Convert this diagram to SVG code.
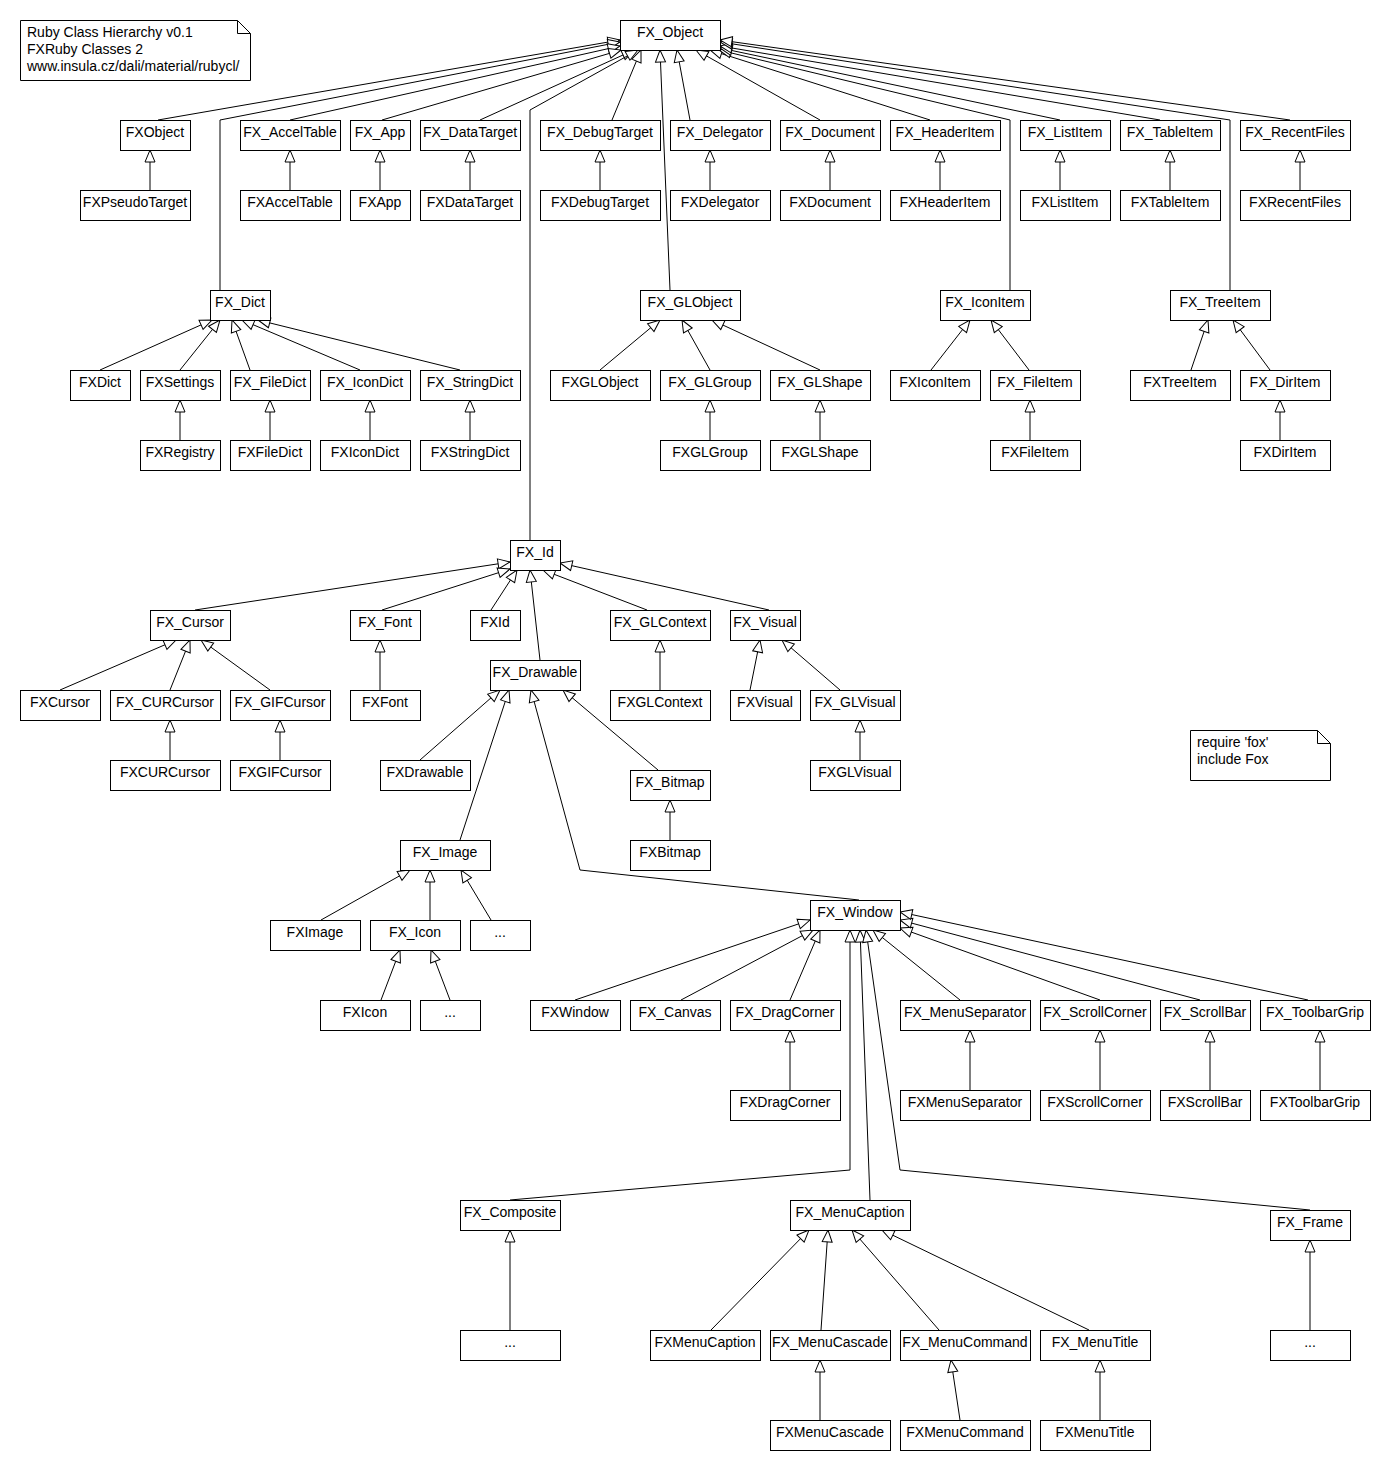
<svg xmlns="http://www.w3.org/2000/svg" width="1390" height="1470" viewBox="0 0 1390 1470">
<style>
.b{fill:#fff;stroke:#000;stroke-width:1}
.t{font-family:"Liberation Sans",Arial,sans-serif;font-size:14px;fill:#000;text-anchor:middle}
.n{font-family:"Liberation Sans",Arial,sans-serif;font-size:14px;fill:#000}
.e{fill:none;stroke:#000;stroke-width:1;marker-end:url(#gen)}
.f{fill:none;stroke:#000;stroke-width:1}
</style>
<defs>
<marker id="gen" markerUnits="userSpaceOnUse" markerWidth="14" markerHeight="12" viewBox="0 0 14 12" refX="13" refY="6" orient="auto" overflow="visible">
<path d="M1,1 L13,6 L1,11 Z" fill="#fff" stroke="#000" stroke-width="1"/>
</marker>
</defs>
<rect width="1390" height="1470" fill="#fff"/>

<g id="connectors">
<path class="e" d="M158,120 L620,40"/>
<path class="e" d="M220,290 L220,120 L620,42"/>
<path class="e" d="M290,120 L620,46"/>
<path class="e" d="M382,120 L621,50"/>
<path class="e" d="M480,120 L634,50"/>
<path class="e" d="M530,540 L530,110 L638,50"/>
<path class="e" d="M612,120 L641,50"/>
<path class="e" d="M670,290 L660,50"/>
<path class="e" d="M690,120 L677,50"/>
<path class="e" d="M820,120 L696,50"/>
<path class="e" d="M930,120 L710,50"/>
<path class="e" d="M1010,290 L1010,120 L719,50"/>
<path class="e" d="M1060,120 L720,48"/>
<path class="e" d="M1160,120 L720,46"/>
<path class="e" d="M1230,290 L1230,120 L720,42"/>
<path class="e" d="M1290,120 L720,40"/>

<path class="e" d="M150,190 L150,150"/>
<path class="e" d="M290,190 L290,150"/>
<path class="e" d="M380,190 L380,150"/>
<path class="e" d="M470,190 L470,150"/>
<path class="e" d="M600,190 L600,150"/>
<path class="e" d="M710,190 L710,150"/>
<path class="e" d="M830,190 L830,150"/>
<path class="e" d="M940,190 L940,150"/>
<path class="e" d="M1060,190 L1060,150"/>
<path class="e" d="M1170,190 L1170,150"/>
<path class="e" d="M1300,190 L1300,150"/>

<path class="e" d="M100,370 L212,320"/>
<path class="e" d="M180,370 L220,320"/>
<path class="e" d="M250,370 L232,320"/>
<path class="e" d="M360,370 L242,320"/>
<path class="e" d="M460,370 L258,320"/>
<path class="e" d="M180,440 L180,400"/>
<path class="e" d="M270,440 L270,400"/>
<path class="e" d="M370,440 L370,400"/>
<path class="e" d="M470,440 L470,400"/>

<path class="e" d="M600,370 L660,320"/>
<path class="e" d="M710,370 L682,320"/>
<path class="e" d="M820,370 L712,320"/>
<path class="e" d="M710,440 L710,400"/>
<path class="e" d="M820,440 L820,400"/>

<path class="e" d="M931,370 L970,320"/>
<path class="e" d="M1029,370 L991,320"/>
<path class="e" d="M1030,440 L1030,400"/>

<path class="e" d="M1191,370 L1208,320"/>
<path class="e" d="M1270,370 L1233,320"/>
<path class="e" d="M1280,440 L1280,400"/>

<path class="e" d="M195,610 L510,562"/>
<path class="e" d="M382,610 L510,569"/>
<path class="e" d="M491,610 L517,570"/>
<path class="e" d="M540,660 L530,570"/>
<path class="e" d="M647,610 L543,570"/>
<path class="e" d="M769,610 L560,563"/>

<path class="e" d="M60,690 L176,640"/>
<path class="e" d="M170,690 L190,640"/>
<path class="e" d="M270,690 L201,640"/>
<path class="e" d="M170,760 L170,720"/>
<path class="e" d="M280,760 L280,720"/>
<path class="e" d="M380,690 L380,640"/>
<path class="e" d="M660,690 L660,640"/>
<path class="e" d="M750,690 L760,640"/>
<path class="e" d="M840,690 L782,640"/>
<path class="e" d="M860,760 L860,720"/>

<path class="e" d="M420,760 L500,690"/>
<path class="e" d="M460,840 L509,690"/>
<path class="e" d="M859,900 L580,870 L531,690"/>
<path class="e" d="M658,770 L563,690"/>
<path class="e" d="M670,840 L670,800"/>

<path class="e" d="M321,920 L410,870"/>
<path class="e" d="M430,920 L430,870"/>
<path class="e" d="M491,920 L461,870"/>
<path class="e" d="M381,1000 L400,950"/>
<path class="e" d="M450,1000 L431,950"/>

<path class="e" d="M575,1000 L810,920"/>
<path class="e" d="M681,1000 L813,930"/>
<path class="e" d="M790,1000 L820,930"/>
<path class="e" d="M510,1200 L850,1170 L850,930"/>
<path class="e" d="M870,1200 L860,930"/>
<path class="e" d="M1310,1210 L900,1170 L866,930"/>
<path class="e" d="M960,1000 L873,930"/>
<path class="e" d="M1100,1000 L900,928"/>
<path class="e" d="M1200,1000 L900,920"/>
<path class="e" d="M1308,1000 L900,912"/>
<path class="e" d="M790,1090 L790,1030"/>
<path class="e" d="M970,1090 L970,1030"/>
<path class="e" d="M1100,1090 L1100,1030"/>
<path class="e" d="M1210,1090 L1210,1030"/>
<path class="e" d="M1320,1090 L1320,1030"/>

<path class="e" d="M510,1330 L510,1230"/>
<path class="e" d="M1310,1330 L1310,1240"/>
<path class="e" d="M711,1330 L809,1230"/>
<path class="e" d="M821,1330 L828,1230"/>
<path class="e" d="M939,1330 L852,1230"/>
<path class="e" d="M1089,1330 L882,1230"/>
<path class="e" d="M820,1420 L820,1360"/>
<path class="e" d="M960,1420 L951,1360"/>
<path class="e" d="M1100,1420 L1100,1360"/>
</g>

<g id="note_title">
<path class="b" d="M20.5,20.5 H237.5 L250.5,33.5 V80.5 H20.5 Z"/>
<path class="f" d="M237.5,20.5 V33.5 H250.5"/>
<text class="n" x="27" y="37">Ruby Class Hierarchy v0.1</text>
<text class="n" x="27" y="54">FXRuby Classes 2</text>
<text class="n" x="27" y="71">www.insula.cz/dali/material/rubycl/</text>
</g>
<g id="note_require">
<path class="b" d="M1190.5,730.5 H1317.5 L1330.5,743.5 V780.5 H1190.5 Z"/>
<path class="f" d="M1317.5,730.5 V743.5 H1330.5"/>
<text class="n" x="1197" y="747">require 'fox'</text>
<text class="n" x="1197" y="764">include Fox</text>
</g>

<g id="FX_Object"><rect class="b" x="620.5" y="20.5" width="100" height="30"/><text class="t" x="670" y="37">FX_Object</text></g>

<g id="FXObject"><rect class="b" x="120.5" y="120.5" width="70" height="30"/><text class="t" x="155" y="137">FXObject</text></g>
<g id="FX_AccelTable"><rect class="b" x="240.5" y="120.5" width="100" height="30"/><text class="t" x="290" y="137">FX_AccelTable</text></g>
<g id="FX_App"><rect class="b" x="350.5" y="120.5" width="60" height="30"/><text class="t" x="380" y="137">FX_App</text></g>
<g id="FX_DataTarget"><rect class="b" x="420.5" y="120.5" width="100" height="30"/><text class="t" x="470" y="137">FX_DataTarget</text></g>
<g id="FX_DebugTarget"><rect class="b" x="540.5" y="120.5" width="120" height="30"/><text class="t" x="600" y="137">FX_DebugTarget</text></g>
<g id="FX_Delegator"><rect class="b" x="670.5" y="120.5" width="100" height="30"/><text class="t" x="720" y="137">FX_Delegator</text></g>
<g id="FX_Document"><rect class="b" x="780.5" y="120.5" width="100" height="30"/><text class="t" x="830" y="137">FX_Document</text></g>
<g id="FX_HeaderItem"><rect class="b" x="890.5" y="120.5" width="110" height="30"/><text class="t" x="945" y="137">FX_HeaderItem</text></g>
<g id="FX_ListItem"><rect class="b" x="1020.5" y="120.5" width="90" height="30"/><text class="t" x="1065" y="137">FX_ListItem</text></g>
<g id="FX_TableItem"><rect class="b" x="1120.5" y="120.5" width="100" height="30"/><text class="t" x="1170" y="137">FX_TableItem</text></g>
<g id="FX_RecentFiles"><rect class="b" x="1240.5" y="120.5" width="110" height="30"/><text class="t" x="1295" y="137">FX_RecentFiles</text></g>

<g id="FXPseudoTarget"><rect class="b" x="80.5" y="190.5" width="110" height="30"/><text class="t" x="135" y="207">FXPseudoTarget</text></g>
<g id="FXAccelTable"><rect class="b" x="240.5" y="190.5" width="100" height="30"/><text class="t" x="290" y="207">FXAccelTable</text></g>
<g id="FXApp"><rect class="b" x="350.5" y="190.5" width="60" height="30"/><text class="t" x="380" y="207">FXApp</text></g>
<g id="FXDataTarget"><rect class="b" x="420.5" y="190.5" width="100" height="30"/><text class="t" x="470" y="207">FXDataTarget</text></g>
<g id="FXDebugTarget"><rect class="b" x="540.5" y="190.5" width="120" height="30"/><text class="t" x="600" y="207">FXDebugTarget</text></g>
<g id="FXDelegator"><rect class="b" x="670.5" y="190.5" width="100" height="30"/><text class="t" x="720" y="207">FXDelegator</text></g>
<g id="FXDocument"><rect class="b" x="780.5" y="190.5" width="100" height="30"/><text class="t" x="830" y="207">FXDocument</text></g>
<g id="FXHeaderItem"><rect class="b" x="890.5" y="190.5" width="110" height="30"/><text class="t" x="945" y="207">FXHeaderItem</text></g>
<g id="FXListItem"><rect class="b" x="1020.5" y="190.5" width="90" height="30"/><text class="t" x="1065" y="207">FXListItem</text></g>
<g id="FXTableItem"><rect class="b" x="1120.5" y="190.5" width="100" height="30"/><text class="t" x="1170" y="207">FXTableItem</text></g>
<g id="FXRecentFiles"><rect class="b" x="1240.5" y="190.5" width="110" height="30"/><text class="t" x="1295" y="207">FXRecentFiles</text></g>

<g id="FX_Dict"><rect class="b" x="210.5" y="290.5" width="60" height="30"/><text class="t" x="240" y="307">FX_Dict</text></g>
<g id="FX_GLObject"><rect class="b" x="640.5" y="290.5" width="100" height="30"/><text class="t" x="690" y="307">FX_GLObject</text></g>
<g id="FX_IconItem"><rect class="b" x="940.5" y="290.5" width="90" height="30"/><text class="t" x="985" y="307">FX_IconItem</text></g>
<g id="FX_TreeItem"><rect class="b" x="1170.5" y="290.5" width="100" height="30"/><text class="t" x="1220" y="307">FX_TreeItem</text></g>

<g id="FXDict"><rect class="b" x="70.5" y="370.5" width="60" height="30"/><text class="t" x="100" y="387">FXDict</text></g>
<g id="FXSettings"><rect class="b" x="140.5" y="370.5" width="80" height="30"/><text class="t" x="180" y="387">FXSettings</text></g>
<g id="FX_FileDict"><rect class="b" x="230.5" y="370.5" width="80" height="30"/><text class="t" x="270" y="387">FX_FileDict</text></g>
<g id="FX_IconDict"><rect class="b" x="320.5" y="370.5" width="90" height="30"/><text class="t" x="365" y="387">FX_IconDict</text></g>
<g id="FX_StringDict"><rect class="b" x="420.5" y="370.5" width="100" height="30"/><text class="t" x="470" y="387">FX_StringDict</text></g>
<g id="FXGLObject"><rect class="b" x="550.5" y="370.5" width="100" height="30"/><text class="t" x="600" y="387">FXGLObject</text></g>
<g id="FX_GLGroup"><rect class="b" x="660.5" y="370.5" width="100" height="30"/><text class="t" x="710" y="387">FX_GLGroup</text></g>
<g id="FX_GLShape"><rect class="b" x="770.5" y="370.5" width="100" height="30"/><text class="t" x="820" y="387">FX_GLShape</text></g>
<g id="FXIconItem"><rect class="b" x="890.5" y="370.5" width="90" height="30"/><text class="t" x="935" y="387">FXIconItem</text></g>
<g id="FX_FileItem"><rect class="b" x="990.5" y="370.5" width="90" height="30"/><text class="t" x="1035" y="387">FX_FileItem</text></g>
<g id="FXTreeItem"><rect class="b" x="1130.5" y="370.5" width="100" height="30"/><text class="t" x="1180" y="387">FXTreeItem</text></g>
<g id="FX_DirItem"><rect class="b" x="1240.5" y="370.5" width="90" height="30"/><text class="t" x="1285" y="387">FX_DirItem</text></g>

<g id="FXRegistry"><rect class="b" x="140.5" y="440.5" width="80" height="30"/><text class="t" x="180" y="457">FXRegistry</text></g>
<g id="FXFileDict"><rect class="b" x="230.5" y="440.5" width="80" height="30"/><text class="t" x="270" y="457">FXFileDict</text></g>
<g id="FXIconDict"><rect class="b" x="320.5" y="440.5" width="90" height="30"/><text class="t" x="365" y="457">FXIconDict</text></g>
<g id="FXStringDict"><rect class="b" x="420.5" y="440.5" width="100" height="30"/><text class="t" x="470" y="457">FXStringDict</text></g>
<g id="FXGLGroup"><rect class="b" x="660.5" y="440.5" width="100" height="30"/><text class="t" x="710" y="457">FXGLGroup</text></g>
<g id="FXGLShape"><rect class="b" x="770.5" y="440.5" width="100" height="30"/><text class="t" x="820" y="457">FXGLShape</text></g>
<g id="FXFileItem"><rect class="b" x="990.5" y="440.5" width="90" height="30"/><text class="t" x="1035" y="457">FXFileItem</text></g>
<g id="FXDirItem"><rect class="b" x="1240.5" y="440.5" width="90" height="30"/><text class="t" x="1285" y="457">FXDirItem</text></g>

<g id="FX_Id"><rect class="b" x="510.5" y="540.5" width="50" height="30"/><text class="t" x="535" y="557">FX_Id</text></g>

<g id="FX_Cursor"><rect class="b" x="150.5" y="610.5" width="80" height="30"/><text class="t" x="190" y="627">FX_Cursor</text></g>
<g id="FX_Font"><rect class="b" x="350.5" y="610.5" width="70" height="30"/><text class="t" x="385" y="627">FX_Font</text></g>
<g id="FXId"><rect class="b" x="470.5" y="610.5" width="50" height="30"/><text class="t" x="495" y="627">FXId</text></g>
<g id="FX_GLContext"><rect class="b" x="610.5" y="610.5" width="100" height="30"/><text class="t" x="660" y="627">FX_GLContext</text></g>
<g id="FX_Visual"><rect class="b" x="730.5" y="610.5" width="70" height="30"/><text class="t" x="765" y="627">FX_Visual</text></g>

<g id="FX_Drawable"><rect class="b" x="490.5" y="660.5" width="90" height="30"/><text class="t" x="535" y="677">FX_Drawable</text></g>

<g id="FXCursor"><rect class="b" x="20.5" y="690.5" width="80" height="30"/><text class="t" x="60" y="707">FXCursor</text></g>
<g id="FX_CURCursor"><rect class="b" x="110.5" y="690.5" width="110" height="30"/><text class="t" x="165" y="707">FX_CURCursor</text></g>
<g id="FX_GIFCursor"><rect class="b" x="230.5" y="690.5" width="100" height="30"/><text class="t" x="280" y="707">FX_GIFCursor</text></g>
<g id="FXFont"><rect class="b" x="350.5" y="690.5" width="70" height="30"/><text class="t" x="385" y="707">FXFont</text></g>
<g id="FXGLContext"><rect class="b" x="610.5" y="690.5" width="100" height="30"/><text class="t" x="660" y="707">FXGLContext</text></g>
<g id="FXVisual"><rect class="b" x="730.5" y="690.5" width="70" height="30"/><text class="t" x="765" y="707">FXVisual</text></g>
<g id="FX_GLVisual"><rect class="b" x="810.5" y="690.5" width="90" height="30"/><text class="t" x="855" y="707">FX_GLVisual</text></g>

<g id="FXCURCursor"><rect class="b" x="110.5" y="760.5" width="110" height="30"/><text class="t" x="165" y="777">FXCURCursor</text></g>
<g id="FXGIFCursor"><rect class="b" x="230.5" y="760.5" width="100" height="30"/><text class="t" x="280" y="777">FXGIFCursor</text></g>
<g id="FXDrawable"><rect class="b" x="380.5" y="760.5" width="90" height="30"/><text class="t" x="425" y="777">FXDrawable</text></g>
<g id="FX_Bitmap"><rect class="b" x="630.5" y="770.5" width="80" height="30"/><text class="t" x="670" y="787">FX_Bitmap</text></g>
<g id="FXGLVisual"><rect class="b" x="810.5" y="760.5" width="90" height="30"/><text class="t" x="855" y="777">FXGLVisual</text></g>

<g id="FX_Image"><rect class="b" x="400.5" y="840.5" width="90" height="30"/><text class="t" x="445" y="857">FX_Image</text></g>
<g id="FXBitmap"><rect class="b" x="630.5" y="840.5" width="80" height="30"/><text class="t" x="670" y="857">FXBitmap</text></g>

<g id="FX_Window"><rect class="b" x="810.5" y="900.5" width="90" height="30"/><text class="t" x="855" y="917">FX_Window</text></g>

<g id="FXImage"><rect class="b" x="270.5" y="920.5" width="90" height="30"/><text class="t" x="315" y="937">FXImage</text></g>
<g id="FX_Icon"><rect class="b" x="370.5" y="920.5" width="90" height="30"/><text class="t" x="415" y="937">FX_Icon</text></g>
<g id="dots_image"><rect class="b" x="470.5" y="920.5" width="60" height="30"/><text class="t" x="500" y="937">...</text></g>

<g id="FXIcon"><rect class="b" x="320.5" y="1000.5" width="90" height="30"/><text class="t" x="365" y="1017">FXIcon</text></g>
<g id="dots_icon"><rect class="b" x="420.5" y="1000.5" width="60" height="30"/><text class="t" x="450" y="1017">...</text></g>
<g id="FXWindow"><rect class="b" x="530.5" y="1000.5" width="90" height="30"/><text class="t" x="575" y="1017">FXWindow</text></g>
<g id="FX_Canvas"><rect class="b" x="630.5" y="1000.5" width="90" height="30"/><text class="t" x="675" y="1017">FX_Canvas</text></g>
<g id="FX_DragCorner"><rect class="b" x="730.5" y="1000.5" width="110" height="30"/><text class="t" x="785" y="1017">FX_DragCorner</text></g>
<g id="FX_MenuSeparator"><rect class="b" x="900.5" y="1000.5" width="130" height="30"/><text class="t" x="965" y="1017">FX_MenuSeparator</text></g>
<g id="FX_ScrollCorner"><rect class="b" x="1040.5" y="1000.5" width="110" height="30"/><text class="t" x="1095" y="1017">FX_ScrollCorner</text></g>
<g id="FX_ScrollBar"><rect class="b" x="1160.5" y="1000.5" width="90" height="30"/><text class="t" x="1205" y="1017">FX_ScrollBar</text></g>
<g id="FX_ToolbarGrip"><rect class="b" x="1260.5" y="1000.5" width="110" height="30"/><text class="t" x="1315" y="1017">FX_ToolbarGrip</text></g>

<g id="FXDragCorner"><rect class="b" x="730.5" y="1090.5" width="110" height="30"/><text class="t" x="785" y="1107">FXDragCorner</text></g>
<g id="FXMenuSeparator"><rect class="b" x="900.5" y="1090.5" width="130" height="30"/><text class="t" x="965" y="1107">FXMenuSeparator</text></g>
<g id="FXScrollCorner"><rect class="b" x="1040.5" y="1090.5" width="110" height="30"/><text class="t" x="1095" y="1107">FXScrollCorner</text></g>
<g id="FXScrollBar"><rect class="b" x="1160.5" y="1090.5" width="90" height="30"/><text class="t" x="1205" y="1107">FXScrollBar</text></g>
<g id="FXToolbarGrip"><rect class="b" x="1260.5" y="1090.5" width="110" height="30"/><text class="t" x="1315" y="1107">FXToolbarGrip</text></g>

<g id="FX_Composite"><rect class="b" x="460.5" y="1200.5" width="100" height="30"/><text class="t" x="510" y="1217">FX_Composite</text></g>
<g id="FX_MenuCaption"><rect class="b" x="790.5" y="1200.5" width="120" height="30"/><text class="t" x="850" y="1217">FX_MenuCaption</text></g>
<g id="FX_Frame"><rect class="b" x="1270.5" y="1210.5" width="80" height="30"/><text class="t" x="1310" y="1227">FX_Frame</text></g>

<g id="dots_composite"><rect class="b" x="460.5" y="1330.5" width="100" height="30"/><text class="t" x="510" y="1347">...</text></g>
<g id="FXMenuCaption"><rect class="b" x="650.5" y="1330.5" width="110" height="30"/><text class="t" x="705" y="1347">FXMenuCaption</text></g>
<g id="FX_MenuCascade"><rect class="b" x="770.5" y="1330.5" width="120" height="30"/><text class="t" x="830" y="1347">FX_MenuCascade</text></g>
<g id="FX_MenuCommand"><rect class="b" x="900.5" y="1330.5" width="130" height="30"/><text class="t" x="965" y="1347">FX_MenuCommand</text></g>
<g id="FX_MenuTitle"><rect class="b" x="1040.5" y="1330.5" width="110" height="30"/><text class="t" x="1095" y="1347">FX_MenuTitle</text></g>
<g id="dots_frame"><rect class="b" x="1270.5" y="1330.5" width="80" height="30"/><text class="t" x="1310" y="1347">...</text></g>

<g id="FXMenuCascade"><rect class="b" x="770.5" y="1420.5" width="120" height="30"/><text class="t" x="830" y="1437">FXMenuCascade</text></g>
<g id="FXMenuCommand"><rect class="b" x="900.5" y="1420.5" width="130" height="30"/><text class="t" x="965" y="1437">FXMenuCommand</text></g>
<g id="FXMenuTitle"><rect class="b" x="1040.5" y="1420.5" width="110" height="30"/><text class="t" x="1095" y="1437">FXMenuTitle</text></g>
</svg>
